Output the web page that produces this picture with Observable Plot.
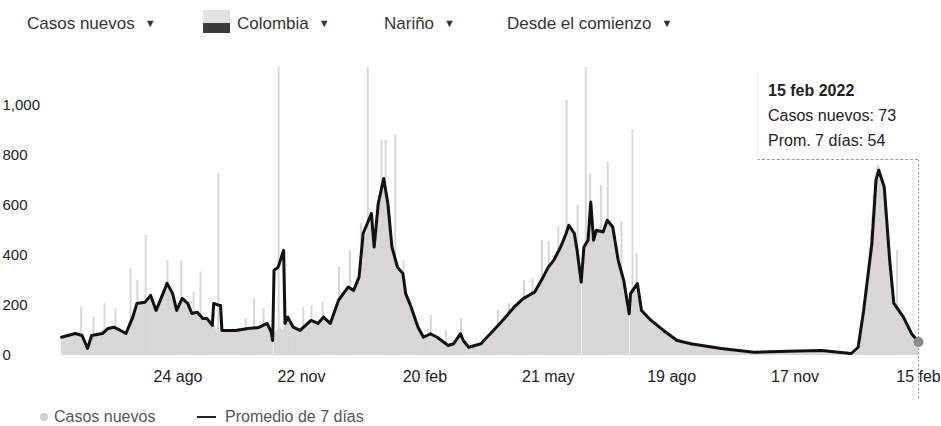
<!DOCTYPE html>
<html>
<head>
<meta charset="utf-8">
<script src="https://cdn.jsdelivr.net/npm/d3@7"></script>
<script src="https://cdn.jsdelivr.net/npm/@observablehq/plot@0.6"></script>
<style>
  html, body { margin: 0; padding: 0; background: #fff; }
  #wrap { position: relative; width: 941px; height: 426px; overflow: hidden; font-family: "Liberation Sans", Arial, sans-serif; color: #333; }
  .hdr { position: absolute; top: 14px; font-size: 17px; color: #333; white-space: nowrap; line-height: 20px; }
  .tri { font-size: 11px; position: relative; top: -2px; margin-left: 10px; }
  #icon { position: absolute; left: 203px; top: 10px; width: 27px; height: 23px; background: linear-gradient(#e2e2e2 0 58%, #3a3a3a 58% 100%); }
  #chart { position: absolute; left: 0; top: 50px; }
  #tip { position: absolute; left: 757px; top: 72px; width: 161px; height: 88px; border-bottom: 1px dashed #999; border-left: 1px solid #eee; background: #fff; box-sizing: border-box; }
  #tip div { position: absolute; left: 10px; font-size: 16px; color: #222; white-space: nowrap; }
  .leg { position: absolute; top: 408px; font-size: 16px; color: #555; white-space: nowrap; line-height: 17px; }
</style>
</head>
<body>
<div id="wrap">
  <div class="hdr" style="left:27px">Casos nuevos<span class="tri">▼</span></div>
  <div id="icon"></div>
  <div class="hdr" style="left:237px">Colombia<span class="tri">▼</span></div>
  <div class="hdr" style="left:384px">Nariño<span class="tri">▼</span></div>
  <div class="hdr" style="left:507px">Desde el comienzo<span class="tri">▼</span></div>
  <div id="chart"></div>
  <div id="tip">
    <div style="top:10px;font-weight:bold">15 feb 2022</div>
    <div style="top:35px">Casos nuevos: 73</div>
    <div style="top:60px">Prom. 7 días: 54</div>
  </div>
  <div style="position:absolute;left:40px;top:413px;width:8px;height:8px;border-radius:50%;background:#cfcfcf"></div>
  <div class="leg" style="left:54px">Casos nuevos</div>
  <div style="position:absolute;left:197px;top:416px;width:19px;height:2px;background:#222"></div>
  <div class="leg" style="left:225px">Promedio de 7 días</div>
</div>
<script>
// ---- data ----
const startDate = "2020-05-31";
const endDate = "2022-02-15";

// daily new cases, one value per day starting at startDate
const dailyCases = [
  62,70,75,68,80,72,78,
  80,88,76,90,84,82,86,
  193,70,55,40,25,15,20,
  60,80,153,78,82,75,85,
  80,86,90,207,95,100,105,
  108,110,104,112,187,106,100,
  98,95,92,88,85,84,110,
  130,347,150,160,185,200,300,
  205,198,210,215,205,480,220,
  225,235,240,215,190,175,170,
  195,210,218,230,245,260,270,
  380,275,260,250,235,210,190,
  175,195,215,380,220,215,210,
  205,200,185,170,160,253,165,
  170,168,160,333,150,145,140,
  142,138,130,125,118,115,120,
  105,100,727,98,102,95,100,
  100,96,104,98,102,95,100,
  98,104,100,106,102,99,108,
  105,147,104,108,102,110,106,
  227,108,110,105,112,110,115,
  187,118,122,125,120,95,80,
  0,95,90,100,2000,110,105,
  100,115,125,160,150,140,120,
  115,110,105,100,102,98,100,
  105,193,112,120,128,132,138,
  200,135,132,128,125,130,135,
  145,213,150,145,138,132,128,
  125,135,155,175,195,210,353,
  230,240,250,255,262,268,270,
  420,262,258,255,265,280,295,
  305,527,370,440,470,490,2200,
  520,540,550,440,430,520,560,
  590,620,860,660,700,860,640,
  600,560,500,440,400,880,370,
  345,340,330,320,380,280,240,
  220,200,190,180,165,150,135,
  120,110,95,85,78,72,75,
  80,82,85,160,85,80,78,
  75,70,65,58,52,48,45,
  100,40,38,40,42,45,48,
  52,58,65,75,148,70,55,
  48,40,35,32,30,32,35,
  36,38,40,42,45,48,52,
  58,65,72,78,85,90,95,
  100,106,112,180,122,128,135,
  140,146,152,158,207,170,178,
  185,190,198,205,210,215,220,
  225,300,232,236,240,244,248,
  310,255,260,268,278,285,292,
  460,310,320,330,340,455,355,
  362,370,378,388,400,513,425,
  432,445,460,475,1020,500,510,
  505,495,480,470,455,600,400,
  340,0,410,420,2100,440,450,
  727,470,480,475,480,490,495,
  490,680,495,500,510,520,773,
  530,525,515,500,470,440,410,
  380,360,533,320,300,270,240,
  200,0,230,900,270,260,407,
  260,240,210,180,170,160,155,
  150,145,142,138,134,130,126,
  122,118,114,110,106,102,98,
  94,90,86,82,78,75,72,
  68,64,62,60,58,56,55,
  54,52,50,49,48,47,46,
  45,44,43,42,41,40,39,
  38,37,36,35,34,33,33,
  32,31,30,30,29,28,28,
  27,26,25,24,24,23,22,
  22,21,20,20,19,18,18,
  17,17,16,16,15,15,14,
  14,13,13,14,14,15,15,
  15,16,16,15,16,17,16,
  17,17,16,17,18,17,18,
  18,17,17,18,17,18,17,
  18,18,19,18,19,19,20,
  19,20,20,21,20,21,20,
  21,20,20,21,20,20,19,
  20,19,18,18,17,16,15,
  15,14,13,12,12,11,10,
  10,9,9,8,8,8,9,
  8,8,9,10,12,16,22,
  33,50,80,120,180,240,300,
  360,430,500,560,640,700,730,
  760,750,720,690,650,600,540,
  470,400,340,280,240,210,190,
  420,175,165,155,150,145,135,
  125,115,105,95,88,80,72,
  65,60,73
];

// 7-day average, read as vertices: day number since startDate, value
const avgDay = [0,10,15,19,22,30,34,38,43,47,52,55,61,65,69,72,77,81,84,88,92,95,99,103,106,110,111,115,116,117,127,136,144,150,153,154,155,158,162,163,165,169,174,182,187,191,196,202,209,213,217,220,226,228,231,235,238,241,245,249,251,255,260,264,269,274,282,286,291,293,297,306,308,315,323,330,337,345,350,355,359,364,368,370,374,376,379,381,384,386,388,390,395,398,402,406,410,414,415,420,423,430,439,449,459,481,505,530,554,576,581,585,591,594,596,600,604,607,614,620,625];
const avgValue = [73,88,80,28,80,88,108,113,100,88,153,208,213,240,180,220,288,248,180,228,208,168,173,148,148,120,208,200,200,100,100,108,112,128,92,60,340,353,420,128,153,113,100,140,128,153,128,220,273,260,313,487,567,433,607,707,607,433,353,327,247,193,113,73,87,73,40,47,87,60,33,47,60,100,148,193,228,253,300,353,380,433,487,520,487,420,293,433,460,613,460,500,493,540,513,380,300,167,247,287,180,140,100,60,47,28,13,17,20,8,33,180,447,700,740,673,380,208,153,87,54];

const tickDates = ["2020-08-24","2020-11-22","2021-02-20","2021-05-21","2021-08-19","2021-11-17","2022-02-15"];
const tickLabels = ["24 ago","22 nov","20 feb","21 may","19 ago","17 nov","15 feb"];
const yTicks = [0,200,400,600,800,1000];

// ---- build ----
const t0 = new Date(startDate);
const daily = dailyCases.map((v, i) => ({date: d3.utcDay.offset(t0, i), cases: v}));
const avg = avgDay.map((d, i) => ({date: d3.utcDay.offset(t0, d), value: avgValue[i]}));
const ticks = tickDates.map(d => new Date(d));
const labelOf = new Map(ticks.map((d, i) => [+d, tickLabels[i]]));
const last = avg[avg.length - 1];

const chart = Plot.plot({
  width: 941,
  height: 350,
  marginLeft: 61,
  marginRight: 23,
  marginTop: 17,
  marginBottom: 45,
  style: {fontFamily: "'Liberation Sans', Arial, sans-serif", background: "transparent", overflow: "visible"},
  x: {type: "utc", domain: [new Date(startDate), new Date(endDate)]},
  y: {domain: [0, 1150]},
  marks: [
    Plot.rectY(daily, {x: "date", y: "cases", interval: "day", fill: "#dad6d6", insetLeft: 0, insetRight: -0.6, clip: true}),
    Plot.ruleX([new Date(endDate)], {y1: 778, y2: -180, stroke: "#999", strokeDasharray: "2,2"}),
    Plot.lineY(avg, {x: "date", y: "value", stroke: "#111", strokeWidth: 3, strokeLinejoin: "round"}),
    Plot.dot([last], {x: "date", y: "value", r: 5, fill: "#8a8a8a"}),
    Plot.axisX({ticks, tickFormat: d => labelOf.get(+d), tickSize: 0, tickPadding: 15, fontSize: 16, fill: "#222", label: null}),
    Plot.axisY({ticks: yTicks, tickSize: 0, textAnchor: "start", dx: -50, fontSize: 15, fill: "#222", label: null})
  ]
});
document.getElementById("chart").appendChild(chart);
</script>
</body>
</html>
